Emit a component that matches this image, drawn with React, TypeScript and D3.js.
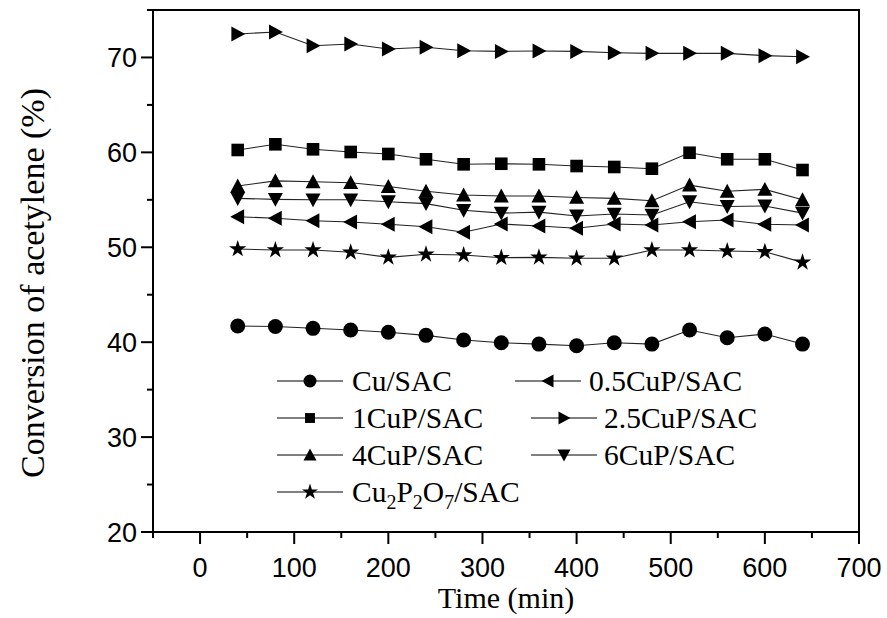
import React from "react";
import * as d3 from "d3";

const times = [40, 80, 120, 160, 200, 240, 280, 320, 360, 400, 440, 480, 520, 560, 600, 640];
const cuSAC = [41.7, 41.65, 41.46, 41.28, 41.04, 40.72, 40.23, 39.94, 39.8, 39.63, 39.94, 39.8, 41.28, 40.47, 40.86, 39.8];
const cuP05 = [53.22, 53.05, 52.8, 52.66, 52.42, 52.17, 51.58, 52.45, 52.24, 52.0, 52.45, 52.34, 52.69, 52.87, 52.42, 52.34];
const cuP1 = [60.25, 60.85, 60.32, 60.04, 59.83, 59.27, 58.74, 58.8, 58.74, 58.56, 58.46, 58.28, 59.96, 59.27, 59.27, 58.14];
const cuP25 = [72.47, 72.68, 71.24, 71.42, 70.89, 71.07, 70.71, 70.64, 70.68, 70.64, 70.5, 70.43, 70.43, 70.43, 70.19, 70.08];
const cuP4 = [56.45, 57.0, 56.9, 56.8, 56.4, 55.9, 55.5, 55.4, 55.4, 55.25, 55.15, 54.9, 56.55, 55.9, 56.1, 55.0];
const cuP6 = [55.15, 55.05, 55.0, 55.0, 54.8, 54.6, 53.9, 53.6, 53.7, 53.3, 53.5, 53.4, 54.8, 54.3, 54.35, 53.6];
const cu2p2o7 = [49.82, 49.71, 49.71, 49.47, 48.94, 49.26, 49.18, 48.9, 48.94, 48.84, 48.84, 49.71, 49.71, 49.6, 49.53, 48.41];

const xTicks = [0, 100, 200, 300, 400, 500, 600, 700];
const xMinor = [-50, 50, 150, 250, 350, 450, 550, 650];
const yTicks = [20, 30, 40, 50, 60, 70];
const yMinor = [25, 35, 45, 55, 65, 75];

type Shape = "circle" | "left" | "square" | "right" | "up" | "down" | "star";

const seriesList: { name: string; values: number[]; shape: Shape }[] = [
  { name: "Cu/SAC", values: cuSAC, shape: "circle" },
  { name: "0.5CuP/SAC", values: cuP05, shape: "left" },
  { name: "1CuP/SAC", values: cuP1, shape: "square" },
  { name: "2.5CuP/SAC", values: cuP25, shape: "right" },
  { name: "4CuP/SAC", values: cuP4, shape: "up" },
  { name: "6CuP/SAC", values: cuP6, shape: "down" },
  { name: "Cu2P2O7/SAC", values: cu2p2o7, shape: "star" },
];

const L = 153, R = 859, T = 10, B = 532;
const x = d3.scaleLinear().domain([-50, 700]).range([L, R]);
const y = d3.scaleLinear().domain([20, 75]).range([B, T]);

function markerPath(shape: Shape, s: number): string {
  const h = s / 2;
  switch (shape) {
    case "circle":
      return d3.symbol(d3.symbolCircle, Math.PI * h * h)()!;
    case "square":
      return `M${-h * 0.9},${-h * 0.9}H${h * 0.9}V${h * 0.9}H${-h * 0.9}Z`;
    case "up":
      return `M0,${-h}L${h},${h * 0.85}L${-h},${h * 0.85}Z`;
    case "down":
      return `M0,${h}L${h},${-h * 0.85}L${-h},${-h * 0.85}Z`;
    case "right":
      return `M${h},0L${-h * 0.85},${h}L${-h * 0.85},${-h}Z`;
    case "left":
      return `M${-h},0L${h * 0.85},${h}L${h * 0.85},${-h}Z`;
    case "star":
      return d3.symbol(d3.symbolStar, s * s * 0.55)()!;
  }
}

const serif = "'Liberation Serif', 'Times New Roman', serif";
const sans = "'Liberation Sans', Arial, sans-serif";

export default function App() {
  const line = d3
    .line<number>()
    .x((_, i) => x(times[i]))
    .y((d) => y(d));

  const legendRows = [
    { c1: 0, c2: 1 },
    { c1: 2, c2: 3 },
    { c1: 4, c2: 5 },
    { c1: 6, c2: -1 },
  ];
  const legendY = [381, 418, 455, 492];
  const col1 = { x0: 277, x1: 343, tx: 352 };
  const col2s = [
    { x0: 515, x1: 581, tx: 589 },
    { x0: 531, x1: 597, tx: 604 },
    { x0: 531, x1: 597, tx: 604 },
  ];

  const renderLegendEntry = (idx: number, ly: number, c: { x0: number; x1: number; tx: number }) => {
    const s = seriesList[idx];
    const ms = s.shape === "square" ? 11 : s.shape === "star" ? 12 : 13;
    return (
      <g key={s.name}>
        <line x1={c.x0} x2={c.x1} y1={ly} y2={ly} stroke="#000" strokeWidth={1} />
        <path d={markerPath(s.shape, ms)} transform={`translate(${(c.x0 + c.x1) / 2},${ly})`} fill="#000" />
        {s.shape === "star" ? (
          <text x={c.tx} y={ly + 10} fontFamily={serif} fontSize={29.5}>
            Cu<tspan fontSize={20} dy={7}>2</tspan>
            <tspan dy={-7}>P</tspan>
            <tspan fontSize={20} dy={7}>2</tspan>
            <tspan dy={-7}>O</tspan>
            <tspan fontSize={20} dy={7}>7</tspan>
            <tspan dy={-7}>/SAC</tspan>
          </text>
        ) : (
          <text x={c.tx} y={ly + 10} fontFamily={serif} fontSize={29.5}>
            {s.name}
          </text>
        )}
      </g>
    );
  };

  return (
    <svg width={887} height={618} style={{ position: "absolute", left: 0, top: 0, background: "#fff" }}>
      <rect x={0} y={0} width={887} height={618} fill="#fff" />
      {seriesList.map((s) => (
        <g key={s.name}>
          <path d={line(s.values)!} fill="none" stroke="#222" strokeWidth={1.1} />
          {s.values.map((v, i) => (
            <path
              key={i}
              d={markerPath(s.shape, s.shape === "star" ? 13 : s.shape === "square" ? 14 : 15)}
              transform={`translate(${x(times[i])},${y(v)})`}
              fill="#000"
            />
          ))}
        </g>
      ))}
      <rect x={L} y={T} width={R - L} height={B - T} fill="none" stroke="#000" strokeWidth={2} />
      {xTicks.map((t) => (
        <g key={"xt" + t}>
          <line x1={x(t)} x2={x(t)} y1={B} y2={B + 12} stroke="#000" strokeWidth={2} />
          <text x={x(t)} y={577} textAnchor="middle" fontFamily={sans} fontSize={27}>
            {t}
          </text>
        </g>
      ))}
      {xMinor.map((t) => (
        <line key={"xm" + t} x1={x(t)} x2={x(t)} y1={B} y2={B + 6} stroke="#000" strokeWidth={2} />
      ))}
      {yTicks.map((t) => (
        <g key={"yt" + t}>
          <line x1={L - 12} x2={L} y1={y(t)} y2={y(t)} stroke="#000" strokeWidth={2} />
          <text x={137} y={y(t)} dy="0.36em" textAnchor="end" fontFamily={sans} fontSize={27}>
            {t}
          </text>
        </g>
      ))}
      {yMinor.map((t) => (
        <line key={"ym" + t} x1={L - 6} x2={L} y1={y(t)} y2={y(t)} stroke="#000" strokeWidth={2} />
      ))}
      <text x={(L + R) / 2} y={608} textAnchor="middle" fontFamily={serif} fontSize={30}>
        Time (min)
      </text>
      <text
        transform={`translate(44,${283}) rotate(-90)`}
        textAnchor="middle"
        fontFamily={serif}
        fontSize={34}
      >
        Conversion of acetylene (%)
      </text>
      {legendRows.map((r, ri) => (
        <g key={"lr" + ri}>
          {renderLegendEntry(r.c1, legendY[ri], col1)}
          {r.c2 >= 0 && renderLegendEntry(r.c2, legendY[ri], col2s[ri])}
        </g>
      ))}
    </svg>
  );
}
